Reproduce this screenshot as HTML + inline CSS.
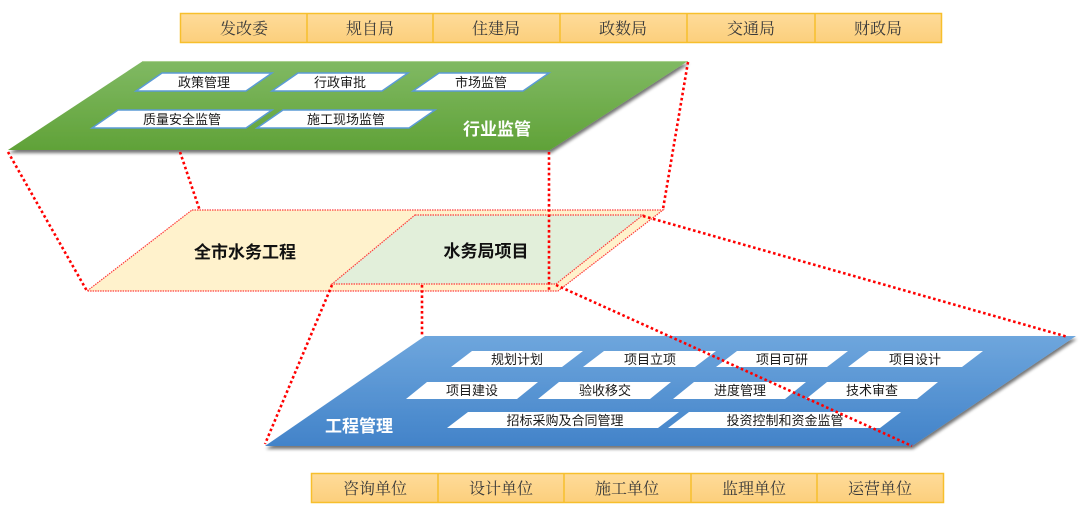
<!DOCTYPE html>
<html>
<head>
<meta charset="utf-8">
<style>
html,body{margin:0;padding:0;background:#fff;}
svg{display:block;}
.chip{font-family:"Liberation Sans","Noto Sans CJK SC",sans-serif;font-size:13px;fill:#1a1a1a;}
.bar{font-family:"Liberation Serif","Noto Serif CJK SC",serif;font-size:16px;fill:#3a3a3a;}
.big{font-family:"Liberation Sans","Noto Sans CJK SC",sans-serif;font-size:17px;font-weight:bold;}
</style>
</head>
<body>
<svg width="1080" height="516" viewBox="0 0 1080 516" xmlns="http://www.w3.org/2000/svg">
<defs>
  <linearGradient id="gG" x1="0" y1="0" x2="0" y2="1">
    <stop offset="0" stop-color="#80b963"/>
    <stop offset="1" stop-color="#60a238"/>
  </linearGradient>
  <linearGradient id="gB" x1="0" y1="0" x2="0" y2="1">
    <stop offset="0" stop-color="#6ea6dd"/>
    <stop offset="1" stop-color="#4283c9"/>
  </linearGradient>
  <linearGradient id="gO" x1="0" y1="0" x2="0" y2="1">
    <stop offset="0" stop-color="#fedb99"/>
    <stop offset="1" stop-color="#fccf7c"/>
  </linearGradient>
  <filter id="sh" x="-5%" y="-5%" width="110%" height="120%">
    <feGaussianBlur in="SourceAlpha" stdDeviation="1.5"/>
    <feOffset dx="1" dy="3" result="o"/>
    <feComponentTransfer><feFuncA type="linear" slope="0.55"/></feComponentTransfer>
    <feMerge><feMergeNode/><feMergeNode in="SourceGraphic"/></feMerge>
  </filter>
</defs>

<!-- top bar -->
<g>
  <rect x="180.5" y="13.5" width="761" height="29" fill="url(#gO)" stroke="#f7bf2c" stroke-width="1.5"/>
  <g stroke="#f7bf2c" stroke-width="1.5">
    <line x1="307" y1="13" x2="307" y2="43"/>
    <line x1="433" y1="13" x2="433" y2="43"/>
    <line x1="560" y1="13" x2="560" y2="43"/>
    <line x1="687" y1="13" x2="687" y2="43"/>
    <line x1="815" y1="13" x2="815" y2="43"/>
  </g>
  <g class="bar" text-anchor="middle">
    <text x="244" y="34">发改委</text>
    <text x="370" y="34">规自局</text>
    <text x="496" y="34">住建局</text>
    <text x="623" y="34">政数局</text>
    <text x="751" y="34">交通局</text>
    <text x="878" y="34">财政局</text>
  </g>
</g>

<!-- green plate -->
<polygon points="143,61 688,61 550,150 8,150" fill="url(#gG)" filter="url(#sh)"/>
<line x1="143" y1="61.5" x2="688" y2="61.5" stroke="#a9d08e" stroke-width="1"/>
<g fill="#fff" stroke="#5b9bd5" stroke-width="1.5">
  <polygon points="162,73 272,73 246,91 136,91"/>
  <polygon points="298,73 408,73 382,91 272,91"/>
  <polygon points="439,73 549,73 523,91 413,91"/>
  <polygon points="118,110 272,110 246,128 92,128"/>
  <polygon points="283,110 435,110 409,128 257,128"/>
</g>
<g class="chip" text-anchor="middle">
  <text x="204" y="87">政策管理</text>
  <text x="340" y="87">行政审批</text>
  <text x="481" y="87">市场监管</text>
  <text x="182" y="124">质量安全监管</text>
  <text x="346" y="124">施工现场监管</text>
</g>
<text class="big" x="497" y="135" text-anchor="middle" fill="#fff">行业监管</text>

<!-- middle plate -->
<polygon points="192,210 663,210 558,291 87,291" fill="#fff2cc" stroke="#ff3b3b" stroke-width="1.2" stroke-dasharray="1.5 1"/>
<polygon points="415,215 643,215 556,284 332,284" fill="#e2efda" stroke="#ff3b3b" stroke-width="1.2" stroke-dasharray="1.5 1"/>
<text class="big" x="245" y="258" text-anchor="middle" fill="#111">全市水务工程</text>
<text class="big" x="486" y="257" text-anchor="middle" fill="#111">水务局项目</text>

<!-- blue plate -->
<polygon points="425,336 1076,336 912,446 265,446" fill="url(#gB)" filter="url(#sh)"/>
<g fill="#fff">
  <polygon points="472,351 583,351 562,367 451,367"/>
  <polygon points="604,351 716,351 695,367 583,367"/>
  <polygon points="737,351 848,351 827,367 716,367"/>
  <polygon points="869,351 983,351 962,367 848,367"/>
  <polygon points="427,382 538,382 517,399 406,399"/>
  <polygon points="559,382 671,382 650,399 538,399"/>
  <polygon points="694,382 806,382 785,399 673,399"/>
  <polygon points="827,382 938,382 917,399 806,399"/>
  <polygon points="468,412 679,412 658,428 447,428"/>
  <polygon points="689,412 901,412 880,428 668,428"/>
</g>
<g class="chip" text-anchor="middle">
  <text x="517" y="364">规划计划</text>
  <text x="650" y="364">项目立项</text>
  <text x="782" y="364">项目可研</text>
  <text x="915" y="364">项目设计</text>
  <text x="472" y="395">项目建设</text>
  <text x="605" y="395">验收移交</text>
  <text x="740" y="395">进度管理</text>
  <text x="872" y="395">技术审查</text>
  <text x="565" y="425">招标采购及合同管理</text>
  <text x="785" y="425">投资控制和资金监管</text>
</g>
<text class="big" x="359" y="432" text-anchor="middle" fill="#fff">工程管理</text>

<!-- bottom bar -->
<g>
  <rect x="311.5" y="473.5" width="632" height="29" fill="url(#gO)" stroke="#f7bf2c" stroke-width="1.5"/>
  <g stroke="#f7bf2c" stroke-width="1.5">
    <line x1="438" y1="473" x2="438" y2="503"/>
    <line x1="564" y1="473" x2="564" y2="503"/>
    <line x1="691" y1="473" x2="691" y2="503"/>
    <line x1="817" y1="473" x2="817" y2="503"/>
  </g>
  <g class="bar" text-anchor="middle">
    <text x="375" y="494">咨询单位</text>
    <text x="501" y="494">设计单位</text>
    <text x="627" y="494">施工单位</text>
    <text x="754" y="494">监理单位</text>
    <text x="880" y="494">运营单位</text>
  </g>
</g>

<!-- red dotted connectors -->
<g stroke="#ff0000" stroke-width="2.6" stroke-dasharray="2.6 2.6" fill="none">
  <line x1="8" y1="152" x2="87" y2="291"/>
  <line x1="180" y1="152" x2="200" y2="211"/>
  <line x1="549" y1="152" x2="549" y2="292"/>
  <line x1="688" y1="62" x2="663" y2="209"/>
  <line x1="643" y1="216" x2="1068" y2="337"/>
  <line x1="556" y1="285" x2="912" y2="446"/>
  <line x1="332" y1="285" x2="265" y2="444"/>
  <line x1="422" y1="285" x2="422" y2="336"/>
</g>
</svg>
</body>
</html>
